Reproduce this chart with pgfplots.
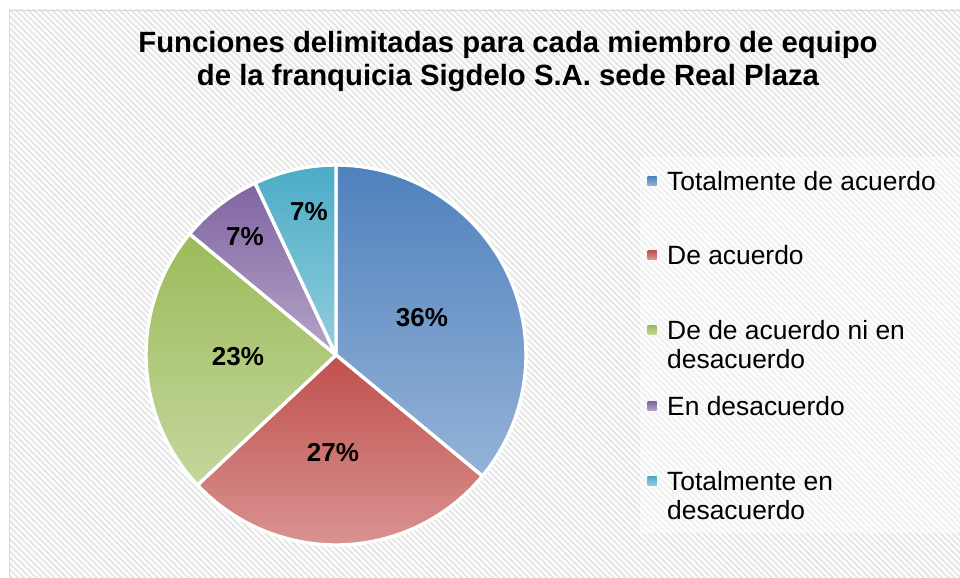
\documentclass[border=0pt]{standalone}
\usepackage{pgfplots}
\pgfplotsset{compat=1.18}
\usepackage{pgfplotstable}
\usetikzlibrary{patterns.meta}
\usepackage{fontspec}
\setmainfont{Liberation Sans}

\definecolor{c0top}{HTML}{4F81BD}\definecolor{c0bot}{HTML}{95B3D7}
\definecolor{c1top}{HTML}{C0504D}\definecolor{c1bot}{HTML}{DA9694}
\definecolor{c2top}{HTML}{9BBB59}\definecolor{c2bot}{HTML}{C5D79E}
\definecolor{c3top}{HTML}{8064A2}\definecolor{c3bot}{HTML}{B4A5C8}
\definecolor{c4top}{HTML}{4BACC6}\definecolor{c4bot}{HTML}{93CDDD}
\definecolor{hatch}{HTML}{E6E6E6}
\definecolor{frame}{HTML}{D9D9D9}

\pgfplotstableread{
idx pct lx ly
0 36 422 318
1 27 333 453
2 23 238 357
3 7 245 237
4 7 309 212
}\piedata

\begin{document}
\begin{tikzpicture}
\useasboundingbox (0,0) rectangle (960bp,578bp);
% cumulative angles from the table
\def\cum{0}
\pgfplotsforeachungrouped \i in {0,...,4}{%
  \pgfplotstablegetelem{\i}{pct}\of\piedata
  \let\pv\pgfplotsretval
  \pgfmathsetmacro\sa{90-3.6*\cum}%
  \pgfmathsetmacro\cum{\cum+\pv}%
  \pgfmathsetmacro\ea{90-3.6*\cum}%
  \expandafter\xdef\csname sa\i\endcsname{\sa}%
  \expandafter\xdef\csname ea\i\endcsname{\ea}%
  \pgfmathtruncatemacro\pvi{\pv}%
  \expandafter\xdef\csname pv\i\endcsname{\pvi}%
  \pgfplotstablegetelem{\i}{lx}\of\piedata
  \expandafter\xdef\csname lx\i\endcsname{\pgfplotsretval}%
  \pgfplotstablegetelem{\i}{ly}\of\piedata
  \pgfmathsetmacro\lyy{578-\pgfplotsretval}%
  \expandafter\xdef\csname ly\i\endcsname{\lyy}%
}
\begin{axis}[
  x=1bp, y=1bp,
  xmin=0, xmax=960, ymin=0, ymax=578,
  enlargelimits=false,
  hide axis,
  at={(0,0)}, anchor=south west,
]
% background
\fill[white] (axis cs:0,0) rectangle (axis cs:960,578);
\fill[pattern={Lines[angle=-45,distance=4.3bp,line width=2bp]}, pattern color=hatch]
  (axis cs:9,-10) rectangle (axis cs:975,568);
\draw[frame, line width=1.2bp] (axis cs:9.5,-10) -- (axis cs:9.5,567.5) -- (axis cs:975,567.5);
% legend background
\fill[white, opacity=0.45] (axis cs:640,45) rectangle (axis cs:975,421);

% pie wedges
\pgfplotsinvokeforeach{0,...,4}{
  \path[top color=c#1top, bottom color=c#1bot, draw=white, line width=3.4bp, line join=round]
    (axis cs:336,223) -- ++(\csname sa#1\endcsname:190bp)
    arc[start angle=\csname sa#1\endcsname, end angle=\csname ea#1\endcsname, radius=190bp] -- cycle;
}
\pgfplotsinvokeforeach{0,...,4}{
  \node[font=\fontsize{26bp}{30bp}\selectfont\bfseries, inner sep=0pt]
    at (axis cs:\csname lx#1\endcsname,\csname ly#1\endcsname) {\csname pv#1\endcsname\%};
}

% title
\node[font=\fontsize{29.3bp}{33.5bp}\selectfont\bfseries, align=center, anchor=base, inner sep=0pt]
  at (axis cs:508,492) {Funciones delimitadas para cada miembro de equipo\\de la franquicia Sigdelo S.A. sede Real Plaza};

% legend
\path[top color=c0top, bottom color=c0bot] (axis cs:647.5,392.5) rectangle (axis cs:656.5,401.5);
\path[top color=c1top, bottom color=c1bot] (axis cs:647.5,318.5) rectangle (axis cs:656.5,327.5);
\path[top color=c2top, bottom color=c2bot] (axis cs:647.5,243.5) rectangle (axis cs:656.5,252.5);
\path[top color=c3top, bottom color=c3bot] (axis cs:647.5,167.5) rectangle (axis cs:656.5,176.5);
\path[top color=c4top, bottom color=c4bot] (axis cs:647.5,92.5) rectangle (axis cs:656.5,101.5);
\begin{scope}[every node/.style={font=\fontsize{26.4bp}{29bp}\selectfont, anchor=base west, align=left, inner sep=0pt}]
\node at (axis cs:667,387.5) {Totalmente de acuerdo};
\node at (axis cs:667,313.5) {De acuerdo};
\node at (axis cs:667,209.5) {De de acuerdo ni en\\desacuerdo};
\node at (axis cs:667,162.5) {En desacuerdo};
\node at (axis cs:667,58.5) {Totalmente en\\desacuerdo};
\end{scope}
\end{axis}
\end{tikzpicture}
\end{document}
